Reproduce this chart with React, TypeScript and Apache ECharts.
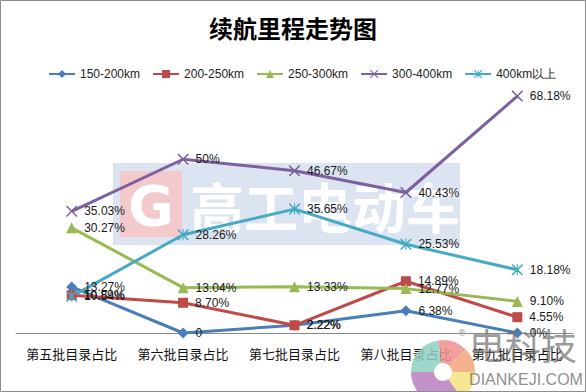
import React, { useEffect, useRef } from "react";
import * as echarts from "echarts";

const categories = ["第五批目录占比", "第六批目录占比", "第七批目录占比", "第八批目录占比", "第九批目录占比"];
const seriesNames = ["150-200km", "200-250km", "250-300km", "300-400km", "400km以上"];
const values150 = [13.27, 0, 2.22, 6.38, 0];
const values200 = [10.89, 8.7, 2.22, 14.89, 4.55];
const values250 = [30.27, 13.04, 13.33, 12.77, 9.1];
const values300 = [35.03, 50, 46.67, 40.43, 68.18];
const values400 = [10.54, 28.26, 35.65, 25.53, 18.18];
const labels150 = ["13.27%", "0", "2.22%", "6.38%", "0%"];
const labels200 = ["10.89%", "8.70%", "2.22%", "14.89%", "4.55%"];
const labels250 = ["30.27%", "13.04%", "13.33%", "12.77%", "9.10%"];
const labels300 = ["35.03%", "50%", "46.67%", "40.43%", "68.18%"];
const labels400 = ["10.54%", "28.26%", "35.65%", "25.53%", "18.18%"];

const colors = ["#4A7EBB", "#BE4B48", "#98B954", "#7D60A0", "#46AAC5"];
const xSym =
  "path://M0,0 L2,0 L10,8 L18,0 L20,0 L20,2 L12,10 L20,18 L20,20 L18,20 L10,12 L2,20 L0,20 L0,18 L8,10 L0,2 Z";
const starSym =
  "path://M0,0 L2,0 L10,8 L18,0 L20,0 L20,2 L12,10 L20,18 L20,20 L18,20 L10,12 L2,20 L0,20 L0,18 L8,10 L0,2 Z M9,0 L11,0 L11,20 L9,20 Z";

export default function App() {
  const ref = useRef<HTMLDivElement>(null);
  useEffect(() => {
    if (!ref.current) return;
    const chart = echarts.init(ref.current, null, { renderer: "svg" });
    const allValues = [values150, values200, values250, values300, values400];
    const allLabels = [labels150, labels200, labels250, labels300, labels400];
    const symbols = ["diamond", "rect", "triangle", xSym, starSym];
    const symbolSizes = [11, 10, 11, 11, 11];
    const series = seriesNames.map((name, i) => ({
      name,
      type: "line",
      data: allValues[i],
      symbol: symbols[i],
      symbolSize: symbolSizes[i],
      z: 3,
      lineStyle: { width: 3, color: colors[i] },
      itemStyle: { color: colors[i] },
      label: {
        show: true,
        position: "right",
        distance: 7,
        color: "#1a1a1a",
        fontSize: 12,
        fontFamily: "Liberation Sans",
        formatter: (p: any) => allLabels[i][p.dataIndex],
      },
    }));
    chart.setOption({
      animation: false,
      backgroundColor: "#ffffff",
      color: colors,
      title: {
        text: "续航里程走势图",
        left: "center",
        top: 10,
        textStyle: { fontSize: 24, fontWeight: "bold", color: "#000", fontFamily: "Noto Sans CJK SC" },
      },
      legend: {
        top: 63,
        left: 43,
        itemWidth: 26,
        itemHeight: 10,
        itemGap: 12,
        textStyle: { fontSize: 12, color: "#222", fontFamily: "Liberation Sans" },
        data: seriesNames,
      },
      grid: { left: 16, right: 13, top: 55, bottom: 59, containLabel: false },
      xAxis: {
        type: "category",
        data: categories,
        boundaryGap: true,
        axisLine: { lineStyle: { color: "#888", width: 1 } },
        axisTick: { show: false },
        axisLabel: { margin: 14, fontSize: 13, color: "#111", fontFamily: "Noto Sans CJK SC", interval: 0 },
      },
      yAxis: {
        type: "value",
        min: 0,
        max: 80,
        show: false,
        splitLine: { show: false },
      },
      graphic: [
        { type: "rect", z: -10, shape: { x: 113, y: 163, width: 347, height: 82 }, style: { fill: "#dbe4f0" } },
        { type: "rect", z: -9, shape: { x: 120, y: 171, width: 62, height: 66 }, style: { fill: "#f3c9cc" } },
        {
          type: "text", z: -8, x: 151, y: 205,
          style: { text: "G", fill: "#ffffff", fontSize: 56, fontWeight: "bold", fontFamily: "DejaVu Sans", align: "center", verticalAlign: "middle" },
        },
        {
          type: "text", z: -8, x: 325, y: 205,
          style: { text: "高工电动车", fill: "#ffffff", fontSize: 54, fontWeight: "bold", fontFamily: "Noto Sans CJK SC", align: "center", verticalAlign: "middle" },
        },
        { type: "sector", z: 50, shape: { cx: 443, cy: 372, r: 32, r0: 9, startAngle: Math.PI * 1.0, endAngle: Math.PI * 1.45 }, style: { fill: "#8fd0c4", opacity: 0.85 } },
        { type: "sector", z: 50, shape: { cx: 443, cy: 372, r: 32, r0: 9, startAngle: Math.PI * 1.45, endAngle: Math.PI * 1.75 }, style: { fill: "#ef8f8f", opacity: 0.85 } },
        { type: "sector", z: 50, shape: { cx: 443, cy: 372, r: 32, r0: 9, startAngle: Math.PI * 1.75, endAngle: Math.PI * 2.0 }, style: { fill: "#f2a57a", opacity: 0.85 } },
        { type: "sector", z: 50, shape: { cx: 443, cy: 372, r: 32, r0: 9, startAngle: 0, endAngle: Math.PI * 0.3 }, style: { fill: "#f5e27e", opacity: 0.85 } },
        { type: "sector", z: 50, shape: { cx: 443, cy: 372, r: 32, r0: 9, startAngle: Math.PI * 0.3, endAngle: Math.PI * 1.0 }, style: { fill: "#b77fc0", opacity: 0.85 } },
        {
          type: "text", z: 50, x: 523, y: 344,
          style: { text: "电科技", fill: "rgba(110,110,110,0.7)", fontSize: 36, fontFamily: "Noto Sans CJK SC", align: "center", verticalAlign: "middle" },
        },
        {
          type: "text", z: 50, x: 526, y: 379,
          style: { text: "DIANKEJI.COM", fill: "rgba(120,120,120,0.85)", fontSize: 16, fontFamily: "Liberation Sans", align: "center", verticalAlign: "middle" },
        },
        {
          type: "text", z: 50, x: 462, y: 333,
          style: { text: "®", fill: "#999", fontSize: 9, fontFamily: "DejaVu Sans", align: "center", verticalAlign: "middle" },
        },
        {
          type: "rect", z: 60, silent: true,
          shape: { x: 0.5, y: 0.5, width: 585, height: 391 },
          style: { fill: "none", stroke: "#8c8c8c", lineWidth: 1 },
        },
      ],
      series,
    });
    return () => chart.dispose();
  }, []);
  return <div ref={ref} style={{ width: 586, height: 392, position: "absolute", left: 0, top: 0 }} />;
}
